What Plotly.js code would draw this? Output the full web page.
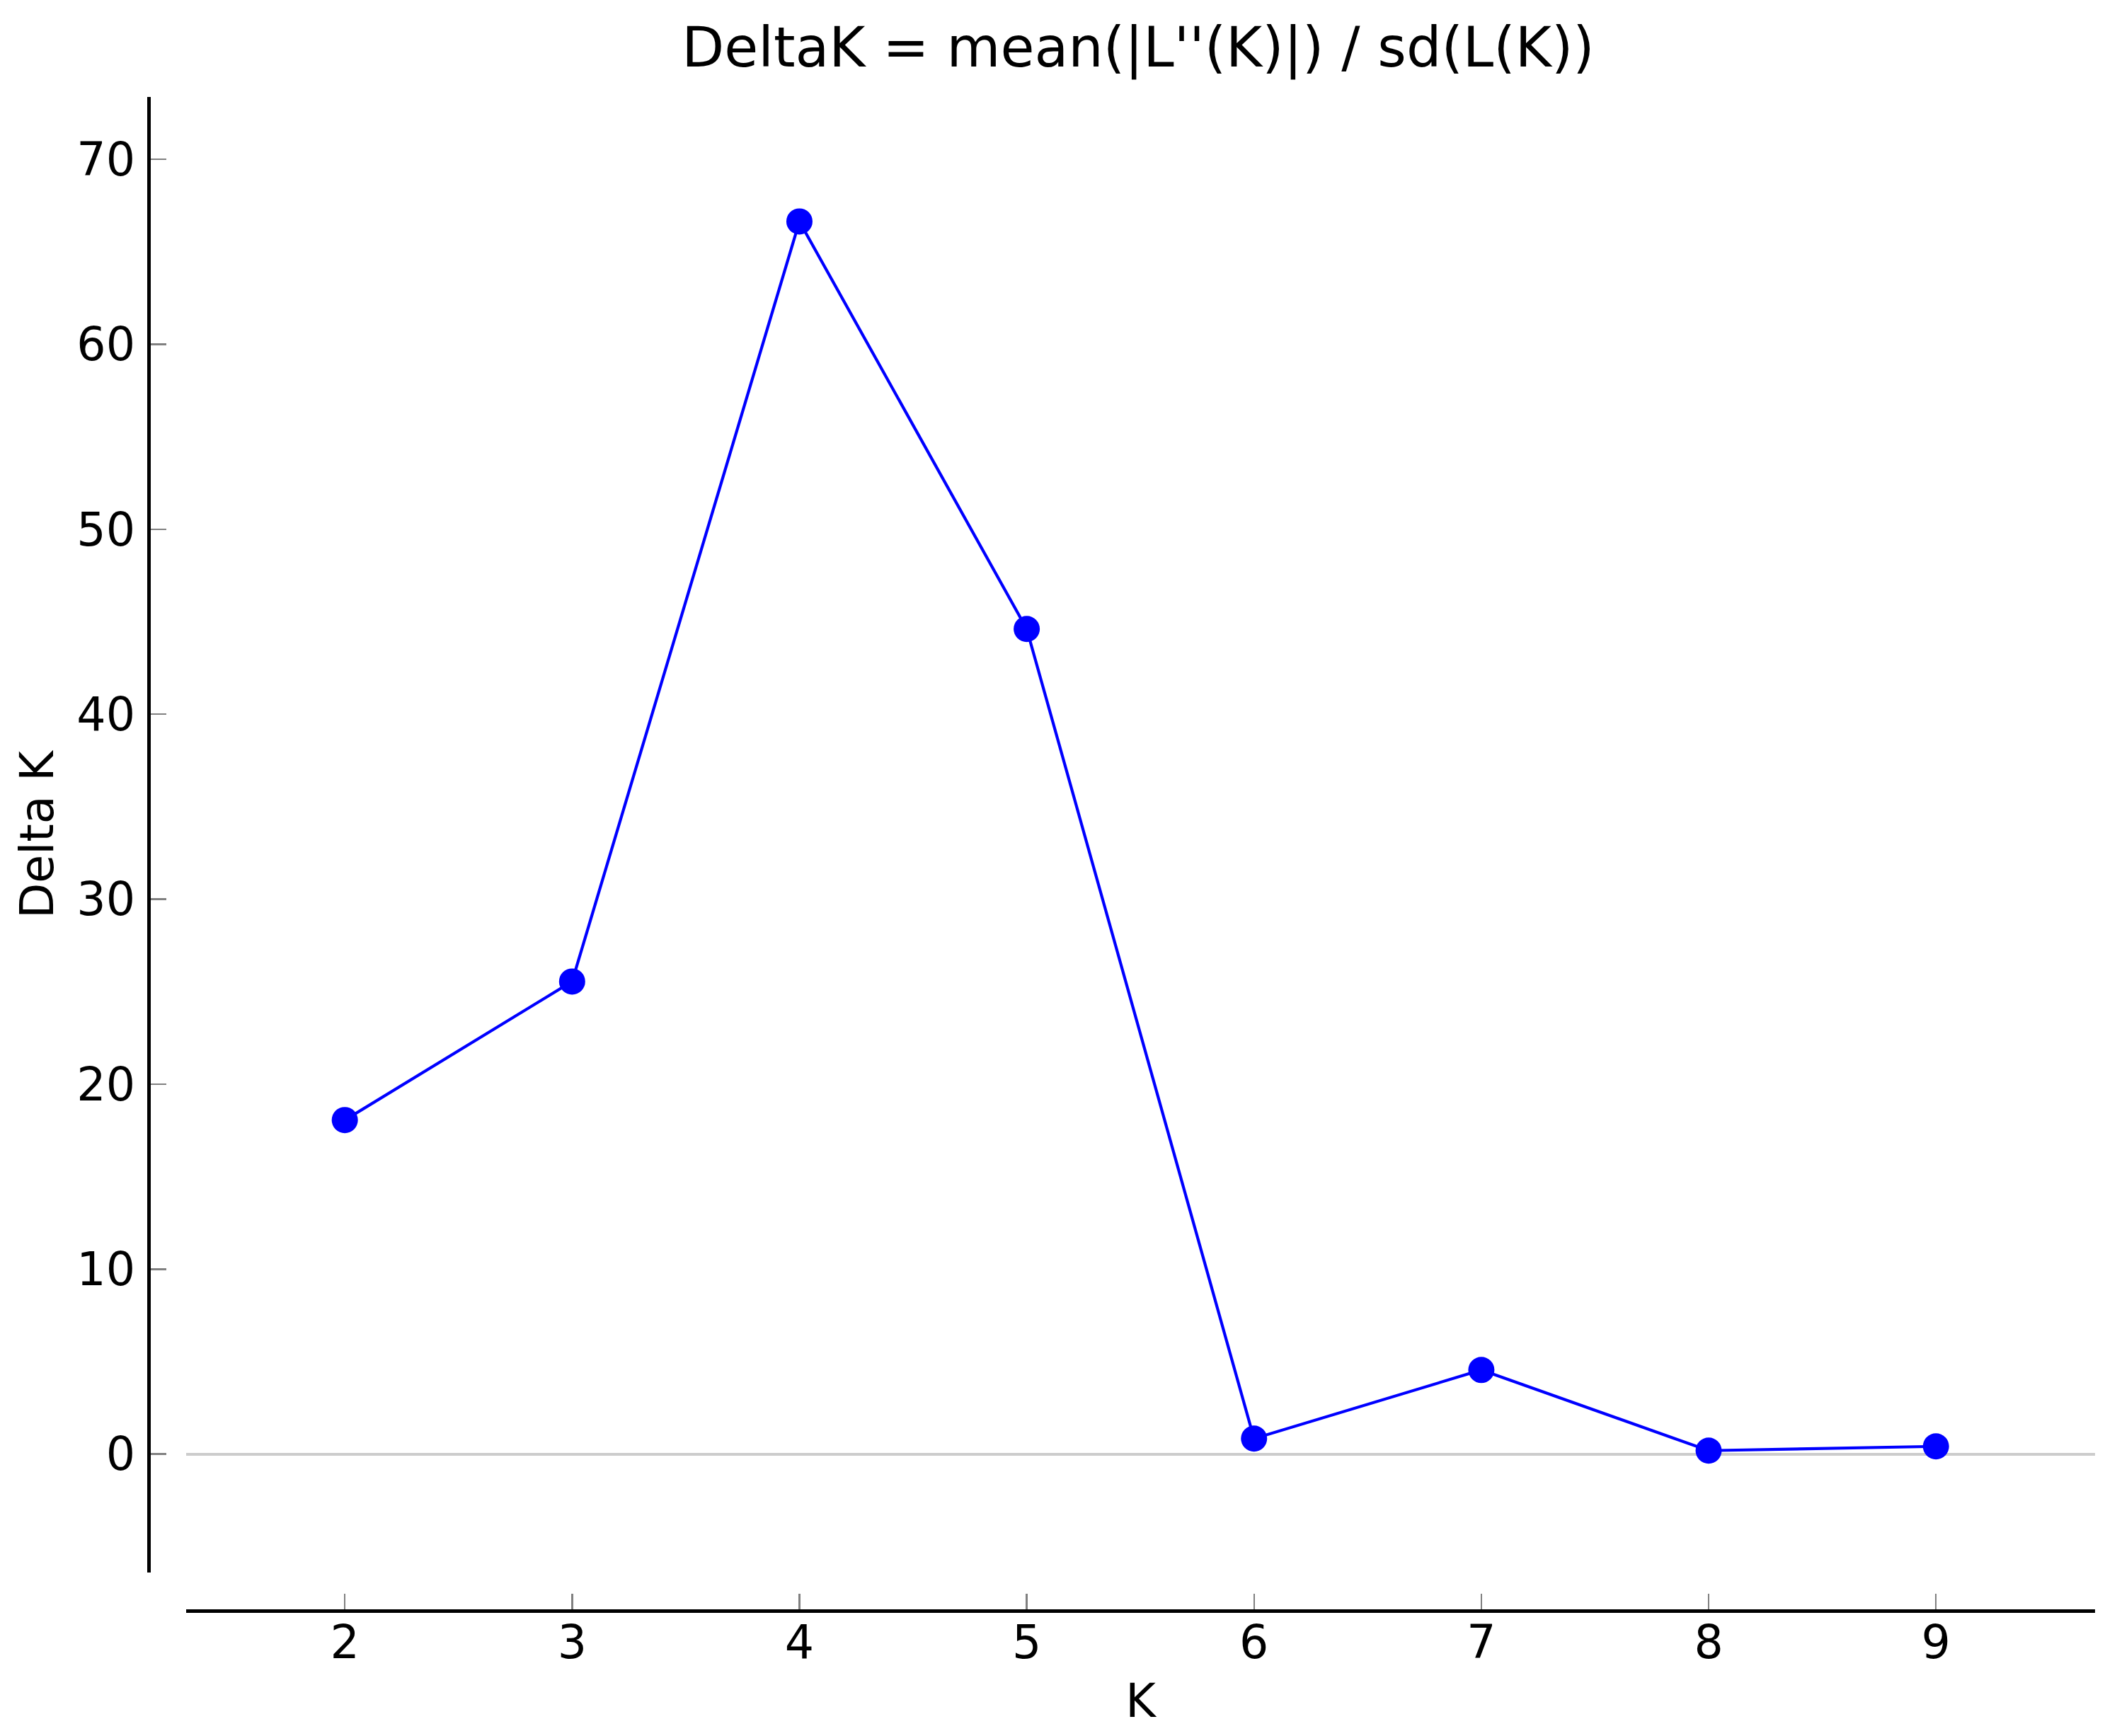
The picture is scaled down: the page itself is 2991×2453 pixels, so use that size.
<!DOCTYPE html>
<html>
<head>
<meta charset="utf-8">
<script src="https://cdn.plot.ly/plotly-3.0.1.min.js"></script>
<style>html,body{margin:0;padding:0;background:#fff;}#chart{width:2991px;height:2453px;}</style>
</head>
<body>
<div id="chart"></div>
<script>
// Data
const kValues = [2, 3, 4, 5, 6, 7, 8, 9];
const deltaK = [18.06, 25.55, 66.64, 44.61, 0.84, 4.55, 0.19, 0.42];
const xTickVals = [2, 3, 4, 5, 6, 7, 8, 9];
const yTickVals = [0, 10, 20, 30, 40, 50, 60, 70];
const chartTitle = "DeltaK = mean(|L''(K)|) / sd(L(K))";
const xTitle = "K";
const yTitle = "Delta K";

const FONT = "DejaVu Sans, Bitstream Vera Sans, sans-serif";

const trace = {
  x: kValues,
  y: deltaK,
  type: 'scatter',
  mode: 'lines+markers',
  line: {color: '#0000ff', width: 4.2},
  marker: {color: '#0000ff', size: 37, line: {width: 0}},
  showlegend: false,
  hoverinfo: 'x+y'
};

const layout = {
  width: 2991,
  height: 2453,
  paper_bgcolor: '#ffffff',
  plot_bgcolor: '#ffffff',
  margin: {l: 210, r: 31, t: 137, b: 177, pad: 0},
  font: {family: FONT, color: '#000000', size: 65},
  title: {
    text: chartTitle,
    font: {family: FONT, size: 78, color: '#000000'},
    xref: 'container', x: 1608 / 2991, xanchor: 'center',
    yref: 'container', y: 1 - 67 / 2453, yanchor: 'middle'
  },
  xaxis: {
    domain: [53 / 2750, 1],
    range: [1.302, 9.70],
    anchor: 'free',
    position: 0,
    showline: true,
    linecolor: '#000000',
    linewidth: 5,
    showgrid: false,
    zeroline: false,
    ticks: 'inside',
    ticklen: 22,
    tickwidth: 2.5,
    tickcolor: '#808080',
    tickmode: 'array',
    tickvals: xTickVals,
    ticktext: xTickVals.map(String),
    tickfont: {family: FONT, size: 65, color: '#000000'},
    ticklabelstandoff: -14,
    title: {text: xTitle, font: {family: FONT, size: 65, color: '#000000'}, standoff: 23},
    automargin: false
  },
  yaxis: {
    domain: [54 / 2139, 1],
    range: [-6.4, 73.37],
    anchor: 'free',
    position: 0,
    showline: true,
    linecolor: '#000000',
    linewidth: 5,
    showgrid: false,
    zeroline: true,
    zerolinecolor: '#cccccc',
    zerolinewidth: 4,
    ticks: 'inside',
    ticklen: 22,
    tickwidth: 2.5,
    tickcolor: '#808080',
    tickmode: 'array',
    tickvals: yTickVals,
    ticktext: yTickVals.map(String),
    tickfont: {family: FONT, size: 65, color: '#000000'},
    ticklabelstandoff: 4,
    title: {text: yTitle, font: {family: FONT, size: 65, color: '#000000'}, standoff: 10},
    automargin: false
  }
};

Plotly.newPlot('chart', [trace], layout, {staticPlot: true, displayModeBar: false});
</script>
</body>
</html>
